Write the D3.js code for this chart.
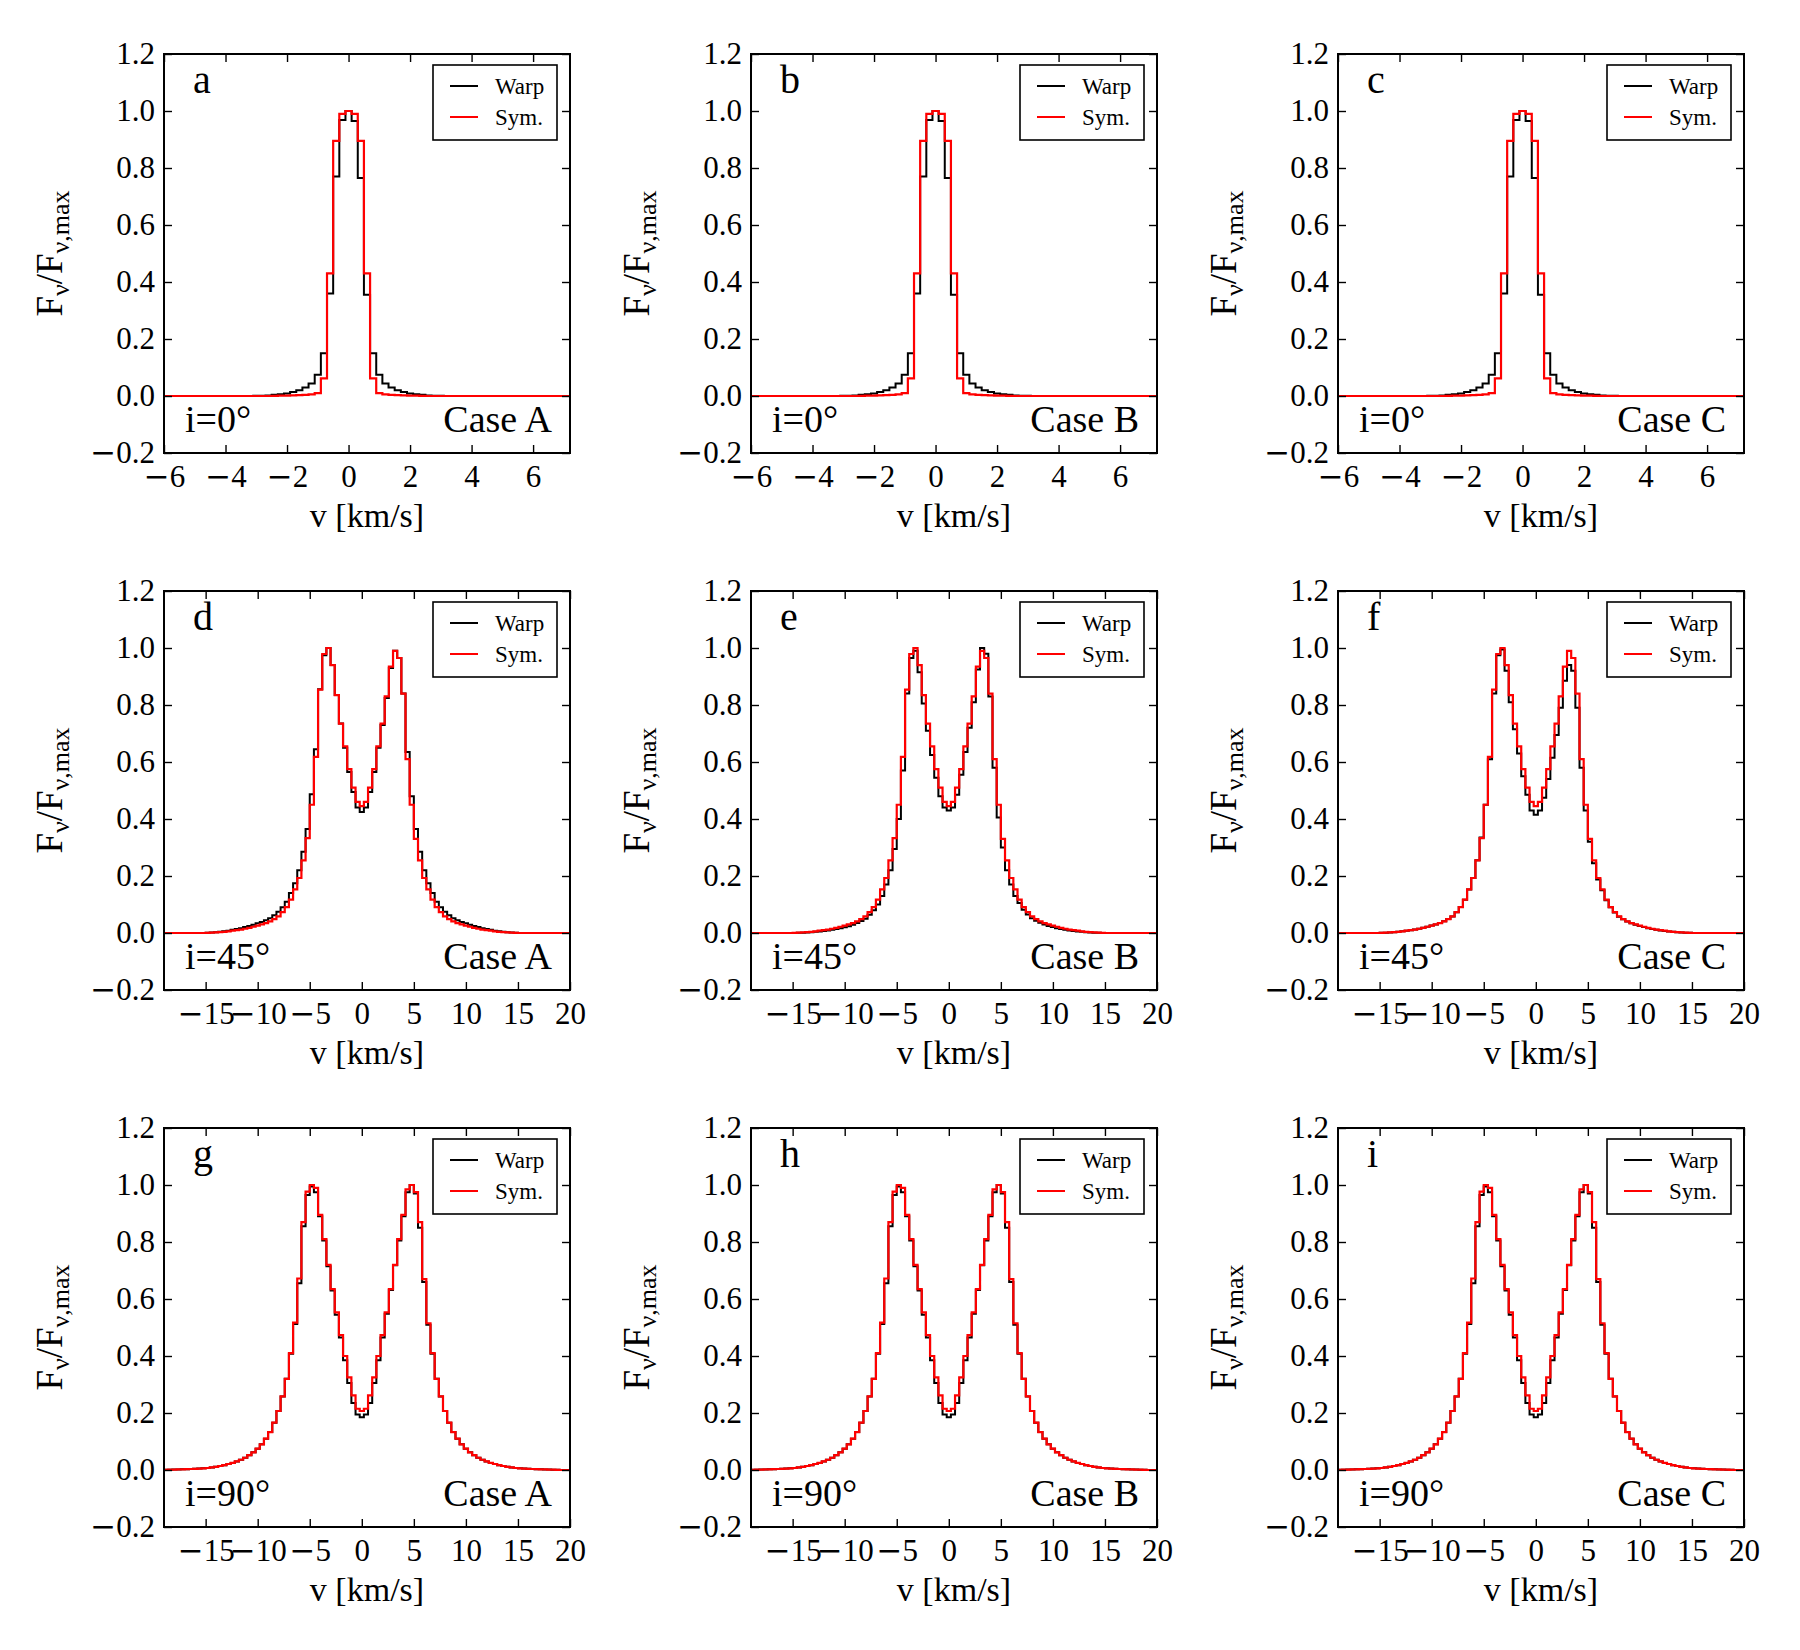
<!DOCTYPE html>
<html>
<head>
<meta charset="utf-8">
<script src="https://cdn.jsdelivr.net/npm/d3@7"></script>
<style>
  body { margin: 0; background: #fff; }
  svg text { font-family: "Liberation Serif", "Times New Roman", serif; fill: #000; }
</style>
</head>
<body>
<div id="chart"></div>
<script>
// ---- data ----
const letters = [["a", "b", "c"], ["d", "e", "f"], ["g", "h", "i"]];
const inclinations = ["i=0°", "i=45°", "i=90°"];
const cases = ["Case A", "Case B", "Case C"];
const legendNames = ["Warp", "Sym."];

const yTicks = [-0.2, 0, 0.2, 0.4, 0.6, 0.8, 1.0, 1.2];
const xTicksNarrow = [-6, -4, -2, 0, 2, 4, 6];
const xTicksWide = [-15, -10, -5, 0, 5, 10, 15, 20];
const xDomainNarrow = [-6, 7.2];
const xDomainWide = [-19, 20];

// velocity bins: first bin centre and bin width per row
const binStart = [-3.0, -14.8, -18.8];
const binWidth = [0.2, 0.4, 0.4];

// i = 0 deg, bins -3.0 .. 3.0
const sym0 = [0, 0, 0, 0.0005, 0.001, 0.0015, 0.002, 0.003, 0.004, 0.006, 0.01, 0.062, 0.43, 0.895, 0.99,
  1.0,
  0.99, 0.895, 0.43, 0.062, 0.01, 0.006, 0.004, 0.003, 0.002, 0.0015, 0.001, 0.0005, 0, 0, 0];
const warpA = [0.0005, 0.001, 0.002, 0.004, 0.006, 0.009, 0.014, 0.02, 0.03, 0.044, 0.075, 0.15, 0.36, 0.77, 0.968,
  1.0,
  0.965, 0.765, 0.355, 0.15, 0.075, 0.044, 0.03, 0.02, 0.014, 0.009, 0.006, 0.004, 0.002, 0.001, 0.0005];
const warpB = [0.0005, 0.001, 0.002, 0.004, 0.006, 0.009, 0.014, 0.02, 0.03, 0.044, 0.075, 0.15, 0.36, 0.77, 0.968,
  1.0,
  0.965, 0.765, 0.355, 0.15, 0.075, 0.044, 0.03, 0.02, 0.014, 0.009, 0.006, 0.004, 0.002, 0.001, 0.0005];
const warpC = [0.0005, 0.001, 0.002, 0.004, 0.006, 0.009, 0.014, 0.02, 0.03, 0.044, 0.075, 0.15, 0.36, 0.77, 0.968,
  1.0,
  0.965, 0.765, 0.355, 0.15, 0.075, 0.044, 0.03, 0.02, 0.014, 0.009, 0.006, 0.004, 0.002, 0.001, 0.0005];

// i = 45 deg, bins -14.8 .. 14.8
const sym45 = [0.0005, 0.001, 0.002, 0.003, 0.004, 0.006, 0.008, 0.01, 0.012, 0.015,
  0.018, 0.022, 0.026, 0.03, 0.035, 0.041, 0.049, 0.058, 0.073, 0.091,
  0.117, 0.153, 0.193, 0.255, 0.333, 0.45, 0.618, 0.854, 0.979, 1.0,
  0.94, 0.835, 0.735, 0.655, 0.575, 0.51, 0.46,
  0.445,
  0.46, 0.51, 0.575, 0.655, 0.735, 0.83, 0.935, 0.99, 0.965, 0.84,
  0.61, 0.45, 0.33, 0.255, 0.193, 0.153, 0.117, 0.091, 0.073, 0.058,
  0.049, 0.041, 0.035, 0.03, 0.026, 0.022, 0.018, 0.015, 0.012, 0.01,
  0.008, 0.006, 0.004, 0.003, 0.002, 0.001, 0.0005];
const warpD = [0.001, 0.002, 0.003, 0.004, 0.006, 0.008, 0.011, 0.014, 0.017, 0.021,
  0.025, 0.029, 0.034, 0.039, 0.045, 0.052, 0.062, 0.075, 0.09, 0.11,
  0.14, 0.175, 0.22, 0.285, 0.365, 0.487, 0.645, 0.855, 0.975, 1.0,
  0.94, 0.835, 0.735, 0.65, 0.565, 0.495, 0.44,
  0.425,
  0.44, 0.495, 0.565, 0.65, 0.73, 0.825, 0.93, 0.99, 0.965, 0.84,
  0.635, 0.48, 0.365, 0.285, 0.22, 0.175, 0.14, 0.11, 0.09, 0.075,
  0.062, 0.052, 0.045, 0.039, 0.034, 0.029, 0.025, 0.021, 0.017, 0.014,
  0.011, 0.008, 0.006, 0.004, 0.003, 0.002, 0.001];
const warpE = [0, 0.0005, 0.001, 0.002, 0.003, 0.004, 0.005, 0.007, 0.009, 0.011,
  0.014, 0.017, 0.02, 0.024, 0.029, 0.035, 0.042, 0.05, 0.064, 0.08,
  0.1, 0.13, 0.17, 0.22, 0.295, 0.40, 0.57, 0.84, 0.965, 0.99,
  0.915, 0.805, 0.71, 0.625, 0.545, 0.48, 0.44,
  0.43,
  0.44, 0.485, 0.555, 0.635, 0.72, 0.81, 0.925, 1.0, 0.98, 0.83,
  0.58, 0.405, 0.3, 0.22, 0.17, 0.13, 0.105, 0.082, 0.065, 0.052,
  0.043, 0.036, 0.03, 0.025, 0.021, 0.017, 0.014, 0.011, 0.009, 0.007,
  0.005, 0.004, 0.003, 0.002, 0.001, 0.0005, 0];
const warpF = [0.0005, 0.001, 0.002, 0.003, 0.004, 0.006, 0.008, 0.01, 0.012, 0.015,
  0.018, 0.022, 0.026, 0.03, 0.035, 0.041, 0.049, 0.058, 0.073, 0.091,
  0.117, 0.153, 0.193, 0.255, 0.335, 0.45, 0.61, 0.84, 0.975, 0.995,
  0.92, 0.81, 0.715, 0.63, 0.55, 0.485, 0.43,
  0.415,
  0.43, 0.475, 0.54, 0.615, 0.695, 0.79, 0.885, 0.94, 0.92, 0.79,
  0.58, 0.43, 0.32, 0.245, 0.188, 0.15, 0.115, 0.09, 0.072, 0.057,
  0.048, 0.04, 0.034, 0.029, 0.025, 0.021, 0.017, 0.014, 0.011, 0.009,
  0.007, 0.005, 0.004, 0.003, 0.002, 0.001, 0.0005];

// i = 90 deg, bins -18.8 .. 18.8
const sym90 = [0.0005, 0.001, 0.0015, 0.002, 0.0025, 0.003, 0.0035, 0.004, 0.005, 0.006,
  0.007, 0.009, 0.011, 0.014, 0.017, 0.021, 0.025, 0.03, 0.036, 0.043,
  0.052, 0.062, 0.075, 0.09, 0.11, 0.133, 0.166, 0.207, 0.258, 0.32,
  0.41, 0.517, 0.672, 0.87, 0.977, 1.0, 0.99, 0.895, 0.81, 0.72,
  0.635, 0.553, 0.473, 0.40, 0.325, 0.262, 0.215,
  0.207,
  0.215, 0.262, 0.325, 0.40, 0.473, 0.553, 0.635, 0.72, 0.81, 0.895,
  0.985, 1.0, 0.975, 0.87, 0.67, 0.515, 0.41, 0.32, 0.258, 0.207,
  0.166, 0.133, 0.11, 0.09, 0.075, 0.062, 0.052, 0.043, 0.036, 0.03,
  0.025, 0.021, 0.017, 0.014, 0.011, 0.009, 0.007, 0.006, 0.005, 0.004,
  0.0035, 0.003, 0.0025, 0.002, 0.0015, 0.001, 0.0005];
const warpG = [0.0005, 0.001, 0.0015, 0.002, 0.0025, 0.003, 0.0035, 0.004, 0.005, 0.006,
  0.007, 0.009, 0.011, 0.014, 0.017, 0.021, 0.025, 0.03, 0.036, 0.043,
  0.052, 0.062, 0.075, 0.09, 0.11, 0.133, 0.166, 0.207, 0.258, 0.32,
  0.408, 0.512, 0.655, 0.855, 0.965, 0.995, 0.975, 0.89, 0.805, 0.715,
  0.63, 0.545, 0.465, 0.385, 0.305, 0.235, 0.195,
  0.185,
  0.195, 0.235, 0.305, 0.385, 0.465, 0.548, 0.632, 0.718, 0.805, 0.89,
  0.975, 1.0, 0.97, 0.85, 0.66, 0.51, 0.408, 0.32, 0.258, 0.207,
  0.166, 0.133, 0.11, 0.09, 0.075, 0.062, 0.052, 0.043, 0.036, 0.03,
  0.025, 0.021, 0.017, 0.014, 0.011, 0.009, 0.007, 0.006, 0.005, 0.004,
  0.0035, 0.003, 0.0025, 0.002, 0.0015, 0.001, 0.0005];
const warpH = warpG.slice();
const warpI = warpG.slice();

const symRows = [sym0, sym45, sym90];
const warpRows = [[warpA, warpB, warpC], [warpD, warpE, warpF], [warpG, warpH, warpI]];

// ---- layout ----
const width = 1800;
const height = 1650;
const panelW = 406;
const panelH = 399;
const colX = [164, 751, 1338];
const rowY = [54, 591, 1128];

const svg = d3.select("#chart")
  .append("svg")
  .attr("width", width)
  .attr("height", height);

const y = d3.scaleLinear().domain([-0.2, 1.2]).range([panelH, 0]);

function profilePoints(values, r, domain) {
  const pts = values.map((v, i) => [binStart[r] + i * binWidth[r], v]);
  const first = pts[0][0], last = pts[pts.length - 1][0];
  return [[domain[0], 0], [first - binWidth[r], 0], ...pts, [last + binWidth[r], 0], [domain[1], 0]];
}

// wide mathtext-like minus in tick labels
function wideMinus(sel) {
  sel.selectAll(".tick text").each(function () {
    const t = d3.select(this);
    const s = t.text();
    if (s.startsWith("−")) {
      t.text(null);
      t.append("tspan").style("font-family", "DejaVu Serif").text("−");
      t.append("tspan").text(s.slice(1));
    }
  });
}

for (let r = 0; r < 3; r++) {
  for (let c = 0; c < 3; c++) {
    const domain = r === 0 ? xDomainNarrow : xDomainWide;
    const ticks = r === 0 ? xTicksNarrow : xTicksWide;
    const x = d3.scaleLinear().domain(domain).range([0, panelW]);

    const g = svg.append("g").attr("transform", `translate(${colX[c]},${rowY[r]})`);

    const clipId = `clip-${r}-${c}`;
    g.append("clipPath").attr("id", clipId)
      .append("rect").attr("width", panelW).attr("height", panelH);

    const line = d3.line()
      .x(d => x(d[0]))
      .y(d => y(d[1]))
      .curve(d3.curveStep);

    const curves = g.append("g").attr("clip-path", `url(#${clipId})`);
    curves.append("path")
      .datum(profilePoints(warpRows[r][c], r, domain))
      .attr("d", line)
      .attr("fill", "none")
      .attr("stroke", "black")
      .attr("stroke-width", 2);
    curves.append("path")
      .datum(profilePoints(symRows[r], r, domain))
      .attr("d", line)
      .attr("fill", "none")
      .attr("stroke", "#ff0000")
      .attr("stroke-width", 2.2);

    // axes, ticks pointing inward on all sides
    const styleAxis = sel => {
      sel.select(".domain").remove();
      sel.selectAll(".tick line").attr("stroke-width", 1.4);
      sel.selectAll("text").style("font-size", "31px");
      sel.call(wideMinus);
    };
    g.append("g").attr("transform", `translate(0,${panelH})`)
      .call(d3.axisBottom(x).tickValues(ticks).tickFormat(d3.format("d"))
        .tickSizeInner(-8).tickSizeOuter(0).tickPadding(12))
      .call(styleAxis);
    g.append("g")
      .call(d3.axisTop(x).tickValues(ticks).tickFormat("").tickSizeInner(-8).tickSizeOuter(0))
      .call(styleAxis);
    g.append("g")
      .call(d3.axisLeft(y).tickValues(yTicks).tickFormat(d3.format(".1f"))
        .tickSizeInner(-8).tickSizeOuter(0).tickPadding(9))
      .call(styleAxis);
    g.append("g").attr("transform", `translate(${panelW},0)`)
      .call(d3.axisRight(y).tickValues(yTicks).tickFormat("").tickSizeInner(-8).tickSizeOuter(0))
      .call(styleAxis);

    g.append("rect")
      .attr("width", panelW).attr("height", panelH)
      .attr("fill", "none").attr("stroke", "black").attr("stroke-width", 2);

    // labels inside the panel
    g.append("text").attr("x", 29).attr("y", 39)
      .style("font-size", "40px").text(letters[r][c]);
    g.append("text").attr("x", 21).attr("y", 378)
      .style("font-size", "38px").text(inclinations[r]);
    g.append("text").attr("x", 388).attr("y", 378)
      .attr("text-anchor", "end")
      .style("font-size", "38px").text(cases[c]);

    // legend
    const lg = g.append("g").attr("transform", "translate(269,11)");
    lg.append("rect").attr("width", 124).attr("height", 75)
      .attr("fill", "white").attr("stroke", "black").attr("stroke-width", 1.6);
    legendNames.forEach((name, k) => {
      const ly = 21 + k * 31;
      lg.append("line").attr("x1", 17).attr("x2", 45).attr("y1", ly).attr("y2", ly)
        .attr("stroke", k === 0 ? "black" : "#ff0000").attr("stroke-width", 2);
      lg.append("text").attr("x", 62).attr("y", ly + 8)
        .style("font-size", "23px").text(name);
    });

    // axis titles
    g.append("text").attr("x", panelW / 2).attr("y", 473)
      .attr("text-anchor", "middle")
      .style("font-size", "34px").text("v [km/s]");
    const yl = g.append("text")
      .attr("transform", `translate(-102,${panelH / 2}) rotate(-90)`)
      .attr("text-anchor", "middle")
      .style("font-size", "37px");
    yl.append("tspan").text("F");
    yl.append("tspan").attr("dy", 7).style("font-size", "26px").text("ν");
    yl.append("tspan").attr("dy", -7).text("/F");
    yl.append("tspan").attr("dy", 7).style("font-size", "26px").text("ν,max");
  }
}
</script>
</body>
</html>
